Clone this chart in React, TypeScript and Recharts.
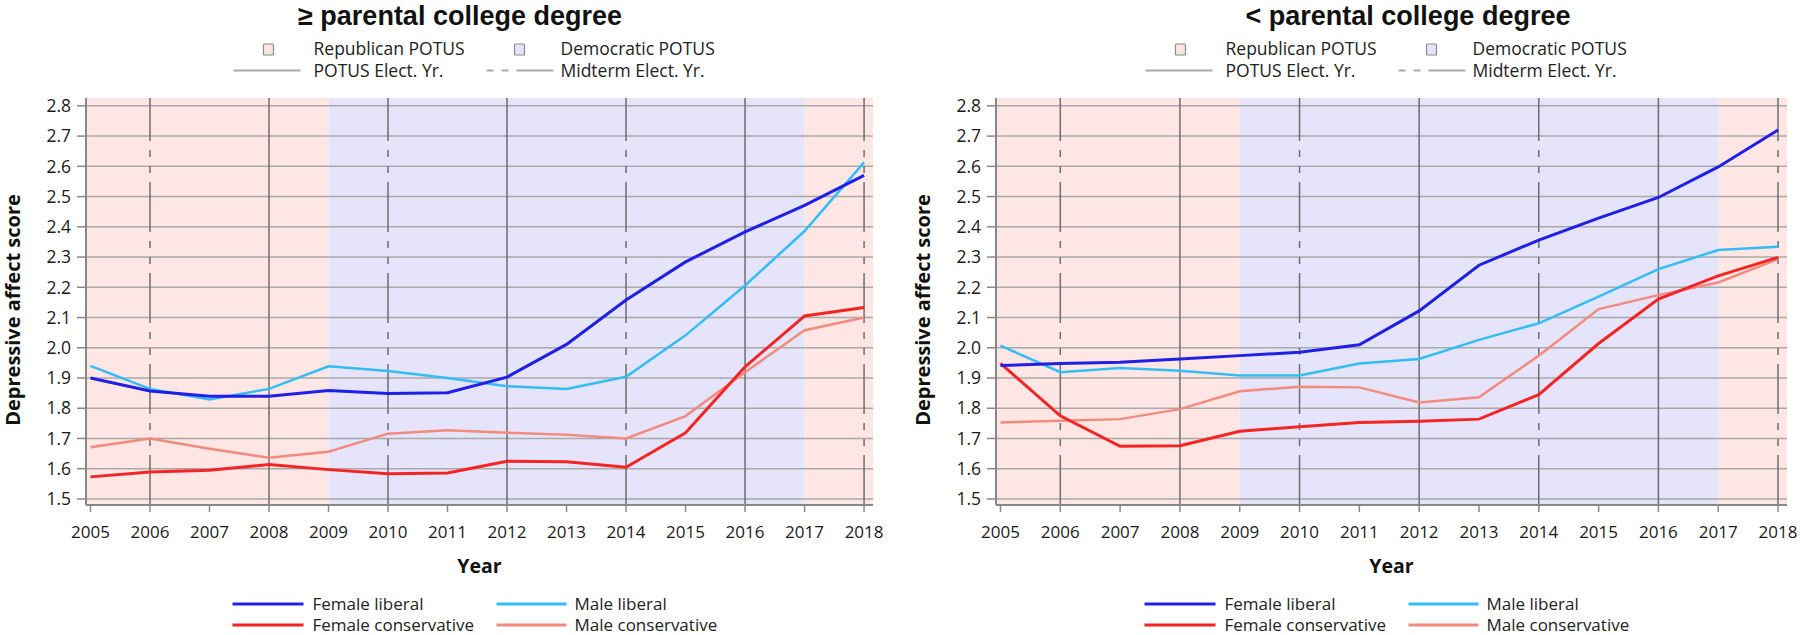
import React from 'react';
import { LineChart, Line, XAxis, YAxis, ReferenceArea, ReferenceLine } from 'recharts';

const years = [2005, 2006, 2007, 2008, 2009, 2010, 2011, 2012, 2013, 2014, 2015, 2016, 2017, 2018];
const yTicks = [1.5, 1.6, 1.7, 1.8, 1.9, 2.0, 2.1, 2.2, 2.3, 2.4, 2.5, 2.6, 2.7, 2.8];
const potusYears = [2008, 2012, 2016];
const midtermYears = [2006, 2010, 2014, 2018];

// ≥ parental college degree
const hiFemaleLiberal = [1.90, 1.857, 1.84, 1.84, 1.859, 1.849, 1.851, 1.903, 2.011, 2.158, 2.284, 2.383, 2.471, 2.57];
const hiMaleLiberal = [1.94, 1.864, 1.829, 1.864, 1.939, 1.923, 1.90, 1.873, 1.864, 1.904, 2.041, 2.206, 2.386, 2.613];
const hiFemaleConservative = [1.573, 1.589, 1.595, 1.614, 1.597, 1.583, 1.586, 1.625, 1.623, 1.605, 1.719, 1.937, 2.105, 2.133];
const hiMaleConservative = [1.671, 1.70, 1.666, 1.636, 1.656, 1.716, 1.727, 1.719, 1.712, 1.70, 1.774, 1.919, 2.058, 2.10];

// < parental college degree
const loFemaleLiberal = [1.941, 1.948, 1.952, 1.963, 1.974, 1.985, 2.01, 2.122, 2.273, 2.356, 2.429, 2.497, 2.598, 2.72];
const loMaleLiberal = [2.007, 1.919, 1.933, 1.924, 1.908, 1.908, 1.948, 1.963, 2.026, 2.081, 2.169, 2.26, 2.323, 2.334];
const loFemaleConservative = [1.948, 1.775, 1.674, 1.676, 1.724, 1.739, 1.753, 1.757, 1.764, 1.845, 2.014, 2.161, 2.238, 2.299];
const loMaleConservative = [1.753, 1.759, 1.764, 1.797, 1.856, 1.871, 1.869, 1.819, 1.836, 1.974, 2.128, 2.174, 2.216, 2.293];

const COLORS = { fl: '#1f1fe6', ml: '#33bdf5', fc: '#f52424', mc: '#f28a7e' };
const PINK = '#fde6e3';
const LAV = '#e6e4fa';
const FONT = '"Open Sans", "DejaVu Sans", sans-serif';
const MIDTERM_DASH = '50 9 7 9 7 9';

const buildRows = (fl: number[], ml: number[], fc: number[], mc: number[]) =>
  years.map((year, i) => ({ year, fl: fl[i], ml: ml[i], fc: fc[i], mc: mc[i] }));

const hiRows = buildRows(hiFemaleLiberal, hiMaleLiberal, hiFemaleConservative, hiMaleConservative);
const loRows = buildRows(loFemaleLiberal, loMaleLiberal, loFemaleConservative, loMaleConservative);

const W = 900;
const H = 635;
const PLOT_TOP = 98;
const PLOT_BOTTOM = 505;

interface PanelProps {
  title: string;
  rows: any[];
  offsetX: number;
  plotLeft: number;
  plotRight: number;
  titleX: number;
}

const Panel: React.FC<PanelProps> = ({ title, rows, offsetX, plotLeft, plotRight, titleX }) => {
  const cx = (plotLeft + plotRight) / 2;
  return (
    <div style={{ position: 'absolute', left: offsetX, top: 0, width: W, height: H }}>
      <LineChart
        width={W}
        height={H}
        data={rows}
        margin={{ top: PLOT_TOP, right: W - plotRight, left: plotLeft - 60, bottom: H - PLOT_BOTTOM - 30 }}
      >
        <XAxis
          dataKey="year"
          type="number"
          domain={[2004.925, 2018.15]}
          ticks={years}
          interval={0}
          allowDataOverflow
          height={30}
          tickSize={7}
          tickMargin={14}
          axisLine={{ stroke: '#888', strokeWidth: 2 }}
          tickLine={{ stroke: '#888', strokeWidth: 1.5 }}
          tick={{ fill: '#1a1a1a', fontSize: 17, fontFamily: FONT }}
        />
        <YAxis
          type="number"
          domain={[1.48, 2.826]}
          ticks={yTicks}
          interval={0}
          allowDataOverflow
          width={60}
          tickSize={9}
          tickMargin={6}
          tickFormatter={(v: number) => v.toFixed(1)}
          axisLine={{ stroke: '#888', strokeWidth: 2 }}
          tickLine={{ stroke: '#888', strokeWidth: 1.5 }}
          tick={{ fill: '#1a1a1a', fontSize: 17.5, fontFamily: FONT }}
        />
        <ReferenceArea x2={2009} fill={PINK} fillOpacity={1} stroke="none" />
        <ReferenceArea x1={2009} x2={2017} fill={LAV} fillOpacity={1} stroke="none" />
        <ReferenceArea x1={2017} fill={PINK} fillOpacity={1} stroke="none" />
        {yTicks.map(t => (
          <ReferenceLine key={'h' + t} y={t} stroke="#a9a9a9" strokeWidth={1.5} />
        ))}
        {potusYears.map(y => (
          <ReferenceLine key={'p' + y} x={y} stroke="#6e6e6e" strokeWidth={1.5} />
        ))}
        {midtermYears.map(y => (
          <ReferenceLine key={'m' + y} x={y} stroke="#6e6e6e" strokeWidth={1.5} strokeDasharray={MIDTERM_DASH} />
        ))}
        <ReferenceArea fill="none" stroke="#8a8a8a" strokeWidth={2} />
        <Line type="linear" dataKey="mc" stroke={COLORS.mc} strokeWidth={2.5} dot={false} isAnimationActive={false} />
        <Line type="linear" dataKey="fc" stroke={COLORS.fc} strokeWidth={3} dot={false} isAnimationActive={false} />
        <Line type="linear" dataKey="ml" stroke={COLORS.ml} strokeWidth={2.5} dot={false} isAnimationActive={false} />
        <Line type="linear" dataKey="fl" stroke={COLORS.fl} strokeWidth={3} dot={false} isAnimationActive={false} />
      </LineChart>
      <svg width={W} height={H} style={{ position: 'absolute', left: 0, top: 0, pointerEvents: 'none' }}>
        <text x={titleX} y={25} textAnchor="middle" fontFamily='"Liberation Sans", Arial, sans-serif' fontWeight="bold" fontSize={27} fill="#111">
          {title}
        </text>
        {/* top legend */}
        <g fontFamily={FONT} fontSize={17.5} fill="#222">
          <rect x={cx - 216} y={44} width={10} height={11} fill={PINK} stroke="#8a8a8a" strokeWidth={1.2} rx={1} />
          <text x={cx - 166} y={55}>Republican POTUS</text>
          <rect x={cx + 35} y={44} width={10} height={11} fill={LAV} stroke="#8a8a8a" strokeWidth={1.2} rx={1} />
          <text x={cx + 81} y={55}>Democratic POTUS</text>
          <line x1={cx - 246} x2={cx - 179} y1={70.5} y2={70.5} stroke="#aaa" strokeWidth={2} />
          <text x={cx - 166} y={77}>POTUS Elect. Yr.</text>
          <line x1={cx + 7} x2={cx + 74} y1={70.5} y2={70.5} stroke="#aaa" strokeWidth={2} strokeDasharray="7 8 7 8 40" />
          <text x={cx + 81} y={77}>Midterm Elect. Yr.</text>
        </g>
        {/* axis titles */}
        <text
          transform={`translate(${plotLeft - 74}, 310) rotate(-90)`}
          textAnchor="middle"
          dominantBaseline="central"
          fontFamily={FONT}
          fontWeight="bold"
          fontSize={20}
          fill="#111"
        >
          Depressive affect score
        </text>
        <text x={cx} y={573} textAnchor="middle" fontFamily={FONT} fontWeight="bold" fontSize={19.5} fill="#111">
          Year
        </text>
        {/* series legend */}
        <g fontFamily={FONT} fontSize={17} fill="#222">
          <line x1={cx - 247} x2={cx - 176} y1={604} y2={604} stroke={COLORS.fl} strokeWidth={3} />
          <text x={cx - 167} y={610}>Female liberal</text>
          <line x1={cx + 17} x2={cx + 87} y1={604} y2={604} stroke={COLORS.ml} strokeWidth={3} />
          <text x={cx + 95} y={610}>Male liberal</text>
          <line x1={cx - 247} x2={cx - 176} y1={625} y2={625} stroke={COLORS.fc} strokeWidth={3} />
          <text x={cx - 167} y={631}>Female conservative</text>
          <line x1={cx + 17} x2={cx + 87} y1={625} y2={625} stroke={COLORS.mc} strokeWidth={3} />
          <text x={cx + 95} y={631}>Male conservative</text>
        </g>
      </svg>
    </div>
  );
};

export default function App() {
  return (
    <div style={{ position: 'absolute', left: 0, top: 0, width: 1800, height: 635, background: '#fff' }}>
      <Panel title="≥ parental college degree" rows={hiRows} offsetX={0} plotLeft={86} plotRight={873} titleX={460} />
      <Panel title="< parental college degree" rows={loRows} offsetX={900} plotLeft={96} plotRight={887} titleX={508} />
    </div>
  );
}
